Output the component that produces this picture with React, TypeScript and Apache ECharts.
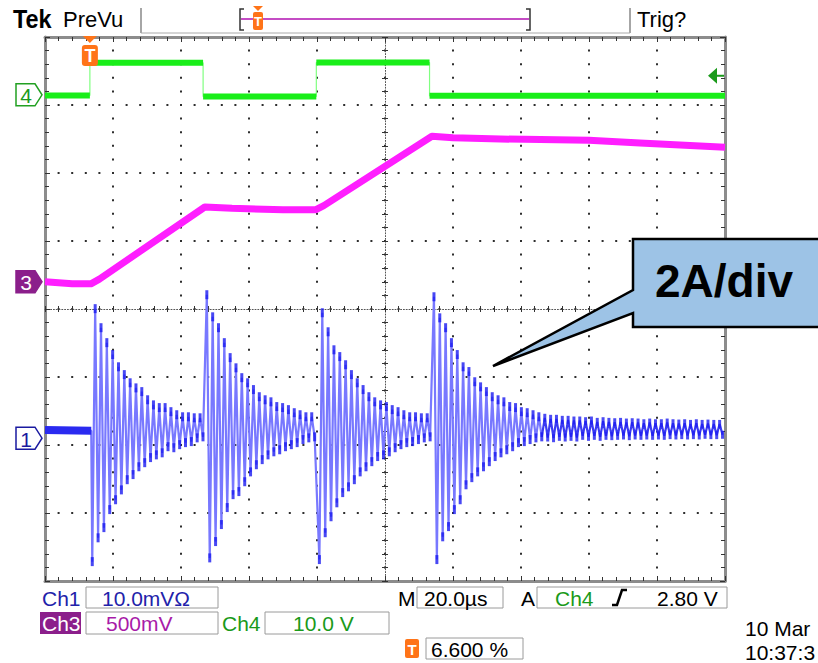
import React, { useEffect, useRef } from 'react';
import * as echarts from 'echarts';

// ---------- layout ----------
const W = 818;
const H = 663;
const GRID = { left: 45, top: 37, width: 680, height: 544 };
const DIV_PX = GRID.height / 8;

// ---------- axes ----------
const TIME_MAX_US = 200; // 10 div x 20 µs
const TIME_PER_DIV_US = 20;
const DIV_MIN = -4;
const DIV_MAX = 4;

// ---------- channel scaling (division position of each trace) ----------
const CH1_A_PER_DIV = 2;
const CH1_POS_DIV = -1.79;
const CH3_V_PER_DIV = 0.5;
const CH3_POS_DIV = 0.4;
const CH4_V_PER_DIV = 10;
const CH4_POS_DIV = 3.15;
const MARKER_DIV = { ch4: 3.15, ch3: 0.4, ch1: -1.9 };
const TRIG_LEVEL_V = 2.8;
const TRIG_POS_PCT = 6.6;

// ---------- Ch4 (logic gate) ----------
const CH4_EDGE_US = [0, 13.2, 46.5, 79.8, 113.1, 200];
const CH4_LEVEL_V = [-0.1, 4.7, -0.25, 4.75, -0.15];

// ---------- Ch3 ----------
const CH3_TIME_US = [0, 8, 13.5, 16, 47, 55, 70, 79.7, 82, 113.8, 120, 134, 160, 175, 200];
const CH3_VOLT = [0, -0.015, -0.015, 0.02, 0.55, 0.54, 0.53, 0.53, 0.56, 1.07, 1.06, 1.05, 1.04, 1.02, 0.99];

// ---------- Ch1 (current ringing, A) ----------
const CH1_PRE_US = [0, 13.6];
const CH1_PRE_A = [0.02, 0.0];
const CH1_HALF_PERIOD_US = 0.857;
const CH1_BURST_START_US = [13.9, 47.6, 80.7, 114.4, 147.0];
const CH1_BURST1_A = [-3.85, 3.59, -3.15, 3.03, -2.85, 2.59, -2.32, 2.24, -2.03, 1.88, -1.74, 1.65, -1.44, 1.41, -1.29, 1.26, -1.06, 1.15, -0.94, 0.91, -0.79, 0.76, -0.71, 0.68, -0.65, 0.68, -0.47, 0.56, -0.5, 0.47, -0.41, 0.41, -0.35, 0.41, -0.32, 0.38, -0.21, 0.38, -0.18];
const CH1_BURST2_A = [4.0, -3.74, 3.35, -3.26, 3.03, -2.76, 2.59, -2.26, 2.15, -1.88, 1.85, -1.79, 1.56, -1.5, 1.41, -1.21, 1.21, -1.0, 1.0, -0.85, 0.91, -0.71, 0.85, -0.62, 0.71, -0.56, 0.68, -0.47, 0.62, -0.41, 0.53, -0.35, 0.47, -0.26, 0.41, -0.21, 0.41, -0.18];
const CH1_BURST3_A = [-3.79, 3.47, -3.0, 2.91, -2.53, 2.38, -2.12, 2.18, -1.82, 1.94, -1.65, 1.65, -1.44, 1.41, -1.21, 1.21, -1.06, 1.0, -0.91, 0.85, -0.76, 0.76, -0.71, 0.71, -0.62, 0.62, -0.5, 0.56, -0.41, 0.47, -0.35, 0.41, -0.32, 0.41, -0.26, 0.38, -0.21, 0.38, -0.18];
const CH1_BURST4_A = [3.94, -3.79, 3.32, -3.12, 3.03, -2.82, 2.59, -2.32, 2.24, -2.03, 1.88, -1.59, 1.74, -1.38, 1.44, -1.21, 1.29, -1.06, 1.15, -0.91, 1.0, -0.76, 0.91, -0.65, 0.85, -0.56, 0.71, -0.47, 0.68, -0.35, 0.56, -0.32, 0.53, -0.26, 0.47, -0.21, 0.41, -0.18];
const CH1_TAIL_A = [0.38, -0.2, 0.35, -0.22, 0.35, -0.18, 0.32, -0.2, 0.32, -0.18, 0.3, -0.2, 0.3, -0.15, 0.28, -0.18, 0.3, -0.15, 0.26, -0.18, 0.28, -0.15, 0.26, -0.16, 0.25, -0.15, 0.26, -0.14, 0.24, -0.16, 0.25, -0.14, 0.24, -0.15, 0.22, -0.14, 0.24, -0.15, 0.22, -0.14, 0.22, -0.15, 0.24, -0.13, 0.22, -0.14, 0.21, -0.13, 0.22, -0.14, 0.2, -0.13, 0.22, -0.14, 0.2, -0.12, 0.21, -0.13, 0.2, -0.13, 0.2, -0.12];

// ---------- readouts ----------
const READ_CH1 = '10.0mVΩ';
const READ_CH3 = '500mV';
const READ_CH4 = '10.0 V';
const READ_TIME = '20.0µs';
const READ_TRIG = '2.80 V';
const READ_TPOS = '6.600 %';
const CALLOUT_TEXT = '2A/div';

const FONT = '"Liberation Sans", Arial, sans-serif';
const C_GREEN = '#19ee19';
const C_GREEN_TXT = '#1a9a1a';
const C_MAG = '#ff1eff';
const C_PURPLE = '#8b1f8b';
const C_BLUE_TXT = '#2222aa';
const C_ORANGE = '#ff7418';

const ch1Div = (a: number) => CH1_POS_DIV + a / CH1_A_PER_DIV;
const ch3Div = (v: number) => CH3_POS_DIV + v / CH3_V_PER_DIV;
const ch4Div = (v: number) => CH4_POS_DIV + v / CH4_V_PER_DIV;
const divToY = (d: number) => GRID.top + GRID.height / 2 - d * DIV_PX;

function txt(x: number, y: number, text: string, fill: string, size: number, opts: any = {}) {
  return {
    type: 'text',
    x,
    y,
    z: opts.z ?? 105,
    scaleX: opts.scaleX ?? 1,
    style: {
      text,
      fill,
      fontSize: size,
      fontFamily: FONT,
      fontWeight: opts.bold ? 'bold' : 'normal',
      textAlign: opts.align ?? 'left',
      align: opts.align ?? 'left',
      textVerticalAlign: 'middle',
      verticalAlign: 'middle',
    },
  };
}
function box(x: number, y: number, w: number, h: number, fill = '#fff', stroke = '#9a9a9a') {
  return { type: 'rect', z: 99, shape: { x, y, width: w, height: h }, style: { fill, stroke, lineWidth: 1 } };
}
function marker(yDiv: number, fill: string, stroke: string, label: string, labelColor: string) {
  const y = divToY(yDiv);
  const x0 = GRID.left - 29;
  const x1 = GRID.left - 10;
  const tip = GRID.left - 3;
  return [
    {
      type: 'polygon',
      z: 100,
      shape: { points: [[x0, y - 11], [x1, y - 11], [tip, y], [x1, y + 11], [x0, y + 11]] },
      style: { fill, stroke, lineWidth: 1.5 },
    },
    txt(x0 + 10, y + 1, label, labelColor, 21, { align: 'center' }),
  ];
}

function buildOption() {
  // Ch4
  const ch4Segments = CH4_LEVEL_V.map((v, i) => [
    [CH4_EDGE_US[i], ch4Div(v)],
    [CH4_EDGE_US[i + 1], ch4Div(v)],
  ]);
  const ch4Step: number[][] = [];
  CH4_LEVEL_V.forEach((v, i) => {
    ch4Step.push([CH4_EDGE_US[i], ch4Div(v)]);
    ch4Step.push([CH4_EDGE_US[i + 1], ch4Div(v)]);
  });
  // Ch3
  const ch3 = CH3_TIME_US.map((t, i) => [t, ch3Div(CH3_VOLT[i])]);
  // Ch1
  const bursts = [CH1_BURST1_A, CH1_BURST2_A, CH1_BURST3_A, CH1_BURST4_A];
  const ch1Peaks: number[][] = [];
  bursts.forEach((arr, b) =>
    arr.forEach((a, i) => ch1Peaks.push([CH1_BURST_START_US[b] + i * CH1_HALF_PERIOD_US, ch1Div(a)]))
  );
  const ch1Tail = CH1_TAIL_A.map((a, i) => [CH1_BURST_START_US[4] + i * CH1_HALF_PERIOD_US, ch1Div(a)]);
  const ch1Pre = CH1_PRE_US.map((t, i) => [t, ch1Div(CH1_PRE_A[i])]);
  const ch1Line = [...ch1Pre, ...ch1Peaks];
  const ch1TailLine = [ch1Peaks[ch1Peaks.length - 1], ...ch1Tail];

  const frameLine = { show: true, onZero: false, lineStyle: { color: '#8c8c8c', width: 3 } };
  const tickStyle = { color: '#333', width: 1 };
  const dotted = { color: '#2e2e2e', width: 2, type: [2, DIV_PX / 5 - 2], dashOffset: 1 };
  const centerLine = { show: true, onZero: false, lineStyle: { color: '#555', width: 1, type: [1, 1.8] } };

  const xBase = (gridIndex: number, position: string, offset: number) => ({
    type: 'value',
    gridIndex,
    position,
    offset,
    min: 0,
    max: TIME_MAX_US,
    interval: TIME_PER_DIV_US,
    axisLabel: { show: false },
  });
  const yBase = (gridIndex: number, position: string, offset: number) => ({
    type: 'value',
    gridIndex,
    position,
    offset,
    min: DIV_MIN,
    max: DIV_MAX,
    interval: 1,
    axisLabel: { show: false },
  });

  const xAxis = [
    {
      ...xBase(0, 'bottom', 0),
      axisLine: frameLine,
      axisTick: { show: true, inside: true, length: 5, lineStyle: tickStyle },
      minorTick: { show: true, splitNumber: 5, length: 4, lineStyle: tickStyle },
      splitLine: { show: true, lineStyle: dotted },
    },
    {
      ...xBase(0, 'top', 0),
      axisLine: frameLine,
      axisTick: { show: true, inside: true, length: 5, lineStyle: tickStyle },
      minorTick: { show: true, splitNumber: 5, length: 4, lineStyle: tickStyle },
      splitLine: { show: false },
    },
    {
      ...xBase(1, 'bottom', -GRID.height / 2),
      axisLine: centerLine,
      axisTick: { show: true, inside: true, length: 3, lineStyle: tickStyle },
      minorTick: { show: true, splitNumber: 5, length: 3, lineStyle: tickStyle },
      splitLine: { show: false },
    },
    {
      ...xBase(1, 'top', -GRID.height / 2),
      axisLine: { show: false },
      axisTick: { show: true, inside: true, length: 3, lineStyle: tickStyle },
      minorTick: { show: true, splitNumber: 5, length: 3, lineStyle: tickStyle },
      splitLine: { show: false },
    },
  ];
  const yAxis = [
    {
      ...yBase(0, 'left', 0),
      axisLine: frameLine,
      axisTick: { show: true, inside: true, length: 5, lineStyle: tickStyle },
      minorTick: { show: true, splitNumber: 5, length: 4, lineStyle: tickStyle },
      splitLine: { show: true, lineStyle: dotted },
    },
    {
      ...yBase(0, 'right', 0),
      axisLine: frameLine,
      axisTick: { show: true, inside: true, length: 5, lineStyle: tickStyle },
      minorTick: { show: true, splitNumber: 5, length: 4, lineStyle: tickStyle },
      splitLine: { show: false },
    },
    {
      ...yBase(1, 'left', -GRID.width / 2),
      axisLine: centerLine,
      axisTick: { show: true, inside: true, length: 3, lineStyle: tickStyle },
      minorTick: { show: true, splitNumber: 5, length: 3, lineStyle: tickStyle },
      splitLine: { show: false },
    },
    {
      ...yBase(1, 'right', -GRID.width / 2),
      axisLine: { show: false },
      axisTick: { show: true, inside: true, length: 3, lineStyle: tickStyle },
      minorTick: { show: true, splitNumber: 5, length: 3, lineStyle: tickStyle },
      splitLine: { show: false },
    },
  ];

  const series: any[] = [];
  series.push({
    type: 'line',
    name: 'Ch4 edges',
    xAxisIndex: 0,
    yAxisIndex: 0,
    data: ch4Step,
    showSymbol: false,
    lineStyle: { color: '#80ff80', width: 1.2 },
    z: 3,
  });
  ch4Segments.forEach((seg, i) =>
    series.push({
      type: 'line',
      name: 'Ch4-' + i,
      xAxisIndex: 0,
      yAxisIndex: 0,
      data: seg,
      showSymbol: false,
      lineStyle: { color: C_GREEN, width: 6, cap: 'butt' },
      z: 4,
    })
  );
  series.push({
    type: 'line',
    name: 'Ch3',
    xAxisIndex: 0,
    yAxisIndex: 0,
    data: ch3,
    showSymbol: false,
    lineStyle: { color: C_MAG, width: 7, join: 'round' },
    z: 4,
  });
  series.push({
    type: 'line',
    name: 'Ch1',
    xAxisIndex: 0,
    yAxisIndex: 0,
    data: ch1Line,
    showSymbol: false,
    lineStyle: { color: '#7878ff', width: 2.2 },
    z: 5,
  });
  series.push({
    type: 'line',
    name: 'Ch1 tail line',
    xAxisIndex: 0,
    yAxisIndex: 0,
    data: ch1TailLine,
    showSymbol: false,
    lineStyle: { color: '#3a3af2', width: 2.2 },
    z: 5,
  });
  series.push({
    type: 'scatter',
    name: 'Ch1 peaks',
    xAxisIndex: 0,
    yAxisIndex: 0,
    data: ch1Peaks,
    symbol: 'rect',
    symbolSize: [3, 9],
    itemStyle: { color: '#1a1af0' },
    z: 6,
  });
  series.push({
    type: 'scatter',
    name: 'Ch1 tail',
    xAxisIndex: 0,
    yAxisIndex: 0,
    data: ch1Tail,
    symbol: 'rect',
    symbolSize: [3, 8],
    itemStyle: { color: '#1e1ef0' },
    z: 6,
  });
  series.push({
    type: 'line',
    name: 'Ch1 pre',
    xAxisIndex: 0,
    yAxisIndex: 0,
    data: ch1Pre,
    showSymbol: false,
    lineStyle: { color: '#2a2af0', width: 8 },
    z: 6,
  });

  // ---------- decorations ----------
  const trigX = GRID.left + (GRID.width * TRIG_POS_PCT) / 100;
  const trigY = divToY(ch4Div(TRIG_LEVEL_V));
  const right = GRID.left + GRID.width;
  const g: any[] = [
    // top bar
    txt(13, 19, 'Tek', '#000', 26, { bold: true, scaleX: 0.9 }),
    txt(63, 19, 'PreVu', '#000', 22),
    { type: 'line', z: 100, shape: { x1: 141, y1: 8, x2: 141, y2: 33 }, style: { stroke: '#888', lineWidth: 1.5 } },
    { type: 'line', z: 100, shape: { x1: 630, y1: 8, x2: 630, y2: 33 }, style: { stroke: '#888', lineWidth: 1.5 } },
    { type: 'line', z: 100, shape: { x1: 141, y1: 33, x2: 630, y2: 33 }, style: { stroke: '#aaa', lineWidth: 1 } },
    txt(637, 19, 'Trig?', '#000', 22),
    { type: 'polyline', z: 100, shape: { points: [[244, 9], [240, 9], [240, 30], [244, 30]] }, style: { stroke: '#333', lineWidth: 1.5, fill: null } },
    { type: 'polyline', z: 100, shape: { points: [[526, 9], [530, 9], [530, 30], [526, 30]] }, style: { stroke: '#333', lineWidth: 1.5, fill: null } },
    { type: 'line', z: 100, shape: { x1: 241, y1: 19, x2: 529, y2: 19 }, style: { stroke: '#b010b0', lineWidth: 1.5 } },
    { type: 'polygon', z: 101, shape: { points: [[253, 6], [263, 6], [258, 11]] }, style: { fill: C_ORANGE } },
    { type: 'rect', z: 101, shape: { x: 253, y: 12, width: 10, height: 18, r: 2 }, style: { fill: C_ORANGE } },
    txt(258, 21, 'T', '#fff', 13, { bold: true, align: 'center' }),

    // trigger position marker on graticule
    { type: 'polygon', z: 101, shape: { points: [[trigX - 7, GRID.top - 1], [trigX + 7, GRID.top - 1], [trigX, GRID.top + 6]] }, style: { fill: C_ORANGE } },
    { type: 'rect', z: 101, shape: { x: trigX - 8, y: GRID.top + 8, width: 16, height: 21, r: 3 }, style: { fill: C_ORANGE } },
    txt(trigX, GRID.top + 19, 'T', '#fff', 18, { bold: true, align: 'center' }),

    // trigger level arrow
    { type: 'polygon', z: 101, shape: { points: [[right - 17, trigY], [right - 8, trigY - 8], [right - 8, trigY + 8]] }, style: { fill: '#1a9a1a' } },
    { type: 'line', z: 101, shape: { x1: right - 8, y1: trigY, x2: right - 1, y2: trigY }, style: { stroke: '#1a9a1a', lineWidth: 2 } },

    // channel ground markers
    ...marker(MARKER_DIV.ch4, '#fff', '#22a022', '4', '#1a9a1a'),
    ...marker(MARKER_DIV.ch3, C_PURPLE, C_PURPLE, '3', '#fff'),
    ...marker(MARKER_DIV.ch1, '#fff', '#1a1aa0', '1', '#1a1aa0'),

    // callout
    {
      type: 'polygon',
      z: 120,
      shape: { points: [[633, 239], [840, 239], [840, 327], [633, 327], [633, 313], [493, 366], [633, 290]] },
      style: { fill: '#9dc3e6', stroke: '#000', lineWidth: 2.5, lineJoin: 'miter' },
    },
    txt(724, 281, CALLOUT_TEXT, '#000', 46, { bold: true, align: 'center', z: 121 }),

    // bottom readouts row 1
    txt(42, 598, 'Ch1', C_BLUE_TXT, 21),
    box(86, 587, 132, 21),
    txt(102, 598, READ_CH1, C_BLUE_TXT, 21),
    txt(398, 598, 'M', '#000', 21),
    box(417, 587, 86, 21),
    txt(424, 598, READ_TIME, '#000', 21),
    txt(521, 598, 'A', '#000', 21),
    box(537, 587, 190, 21),
    txt(555, 598, 'Ch4', C_GREEN_TXT, 21),
    { type: 'polyline', z: 101, shape: { points: [[612, 605], [617, 605], [622, 590], [627, 590]] }, style: { stroke: '#000', lineWidth: 2.5, fill: null } },
    txt(657, 598, READ_TRIG, '#000', 21),
    // row 2
    { type: 'rect', z: 99, shape: { x: 40, y: 612, width: 41, height: 22 }, style: { fill: C_PURPLE } },
    txt(42, 623, 'Ch3', '#fff', 21),
    box(86, 612, 132, 22),
    txt(106, 623, READ_CH3, '#a81aa8', 21),
    txt(222, 623, 'Ch4', C_GREEN_TXT, 21),
    box(265, 612, 124, 22),
    txt(293, 623, READ_CH4, C_GREEN_TXT, 21),
    // row 3
    { type: 'rect', z: 100, shape: { x: 405, y: 639, width: 14, height: 19, r: 2 }, style: { fill: C_ORANGE } },
    txt(412, 649, 'T', '#fff', 15, { bold: true, align: 'center' }),
    box(426, 638, 97, 21),
    txt(431, 649, READ_TPOS, '#000', 21),
    txt(745, 628, '10 Mar', '#000', 21),
    txt(745, 652, '10:37:3', '#000', 21),
  ];

  return {
    animation: false,
    backgroundColor: '#fff',
    grid: [
      { left: GRID.left, top: GRID.top, width: GRID.width, height: GRID.height, containLabel: false },
      { left: GRID.left, top: GRID.top, width: GRID.width, height: GRID.height, containLabel: false },
    ],
    xAxis,
    yAxis,
    series,
    graphic: { elements: g },
  };
}

export default function App() {
  const ref = useRef<HTMLDivElement>(null);
  useEffect(() => {
    if (!ref.current) return;
    const chart = echarts.init(ref.current, undefined, { renderer: 'svg', width: W, height: H });
    chart.setOption(buildOption() as any);
    return () => chart.dispose();
  }, []);
  return (
    <div
      ref={ref}
      style={{ position: 'fixed', left: 0, top: 0, width: W, height: H, background: '#fff' }}
    />
  );
}
